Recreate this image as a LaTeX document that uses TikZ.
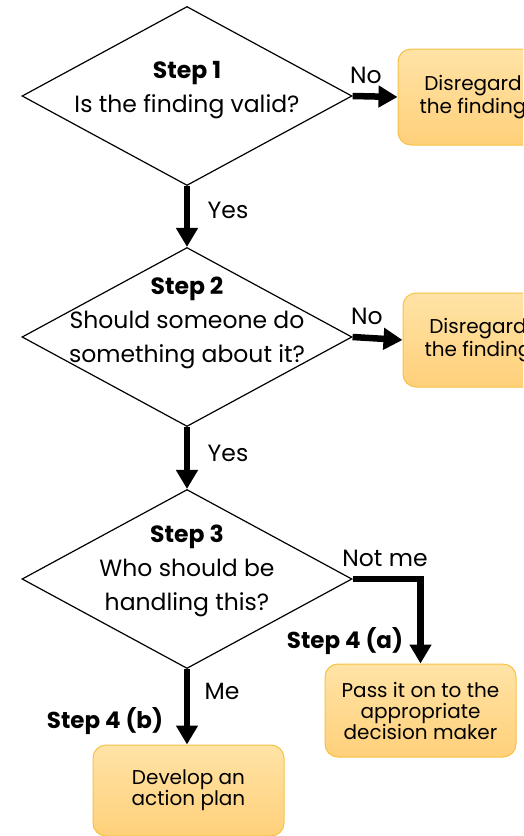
\documentclass[tikz,border=0pt]{standalone}
\usepackage{fontspec}
\setmainfont{Poppins}
\usetikzlibrary{shapes.geometric,arrows.meta}
\definecolor{boxtop}{HTML}{FFE3A6}
\definecolor{boxbot}{HTML}{FFD07A}
\definecolor{boxedge}{HTML}{F7C244}
\tikzset{
  dec/.style={diamond, draw=black, line width=1.2pt, aspect=1.84, minimum width=330pt, minimum height=179pt, inner sep=0pt},
  dtext/.style={align=center, font=\fontsize{23.5}{34}\selectfont},
  lbl/.style={font=\fontsize{23.5}{26}\selectfont},
  steplbl/.style={font=\fontsize{23}{26}\selectfont\bfseries},
  outbox/.style={draw=boxedge, line width=1pt, rounded corners=13pt, top color=boxtop, bottom color=boxbot, align=center, font=\fontsize{20}{21}\selectfont},
  arr/.style={line width=6.5pt, -{Triangle[width=21pt,length=19pt]}}
}
\begin{document}
\begin{tikzpicture}[x=1pt,y=-1pt]
\useasboundingbox (0,0) rectangle (523,836);
\clip (0,0) rectangle (523,836);
% decisions
\node[dec] (d1) at (187,96) {};
\node[dtext] (t1) at (187,90) {\textbf{Step 1}\\Is the finding valid?};
\node[dec] (d2) at (187,337) {};
\node[dtext] (t2) at (187,323) {\textbf{Step 2}\\Should someone do\\something about it?};
\node[dec] (d3) at (187,579) {};
\node[dtext] (t3) at (187,570.5) {\textbf{Step 3}\\Who should be\\handling this?};
% outcome boxes
\node[outbox, minimum width=150pt, minimum height=96pt, font=\fontsize{20}{23}\selectfont] (b1) at (473,97) {Disregard\\the finding};
\node[outbox, minimum width=150pt, minimum height=94pt, font=\fontsize{20}{23}\selectfont] (b2) at (478,340) {Disregard\\the finding};
\node[outbox, minimum width=191pt, minimum height=93pt] (b4a) at (420.5,710.5) {Pass it on to the\\appropriate\\decision maker};
\node[outbox, minimum width=191pt, minimum height=91pt] (b4b) at (188.5,790.5) {Develop an\\action plan};
% connectors
\draw[arr] (d1.east) -- (b1.west);
\draw[arr] (d2.east) -- (b2.west);
\draw[arr] (d1.south) -- (d2.north);
\draw[arr] (d2.south) -- (d3.north);
\draw[arr] (d3.east) -| (b4a.north);
\draw[arr] (d3.south) -- (d3.south |- b4b.north);
% labels
\node[lbl] (no1) at (366,75) {No};
\node[lbl] (no2) at (367,316) {No};
\node[lbl] (yes1) at (228,210) {Yes};
\node[lbl] (yes2) at (228,453) {Yes};
\node[lbl] (notme) at (385,558) {Not me};
\node[lbl] (me) at (222,691) {Me};
\node[steplbl] (s4a) at (345,641) {Step 4 (a)};
\node[steplbl] (s4b) at (105,721) {Step 4 (b)};
\end{tikzpicture}
\end{document}
